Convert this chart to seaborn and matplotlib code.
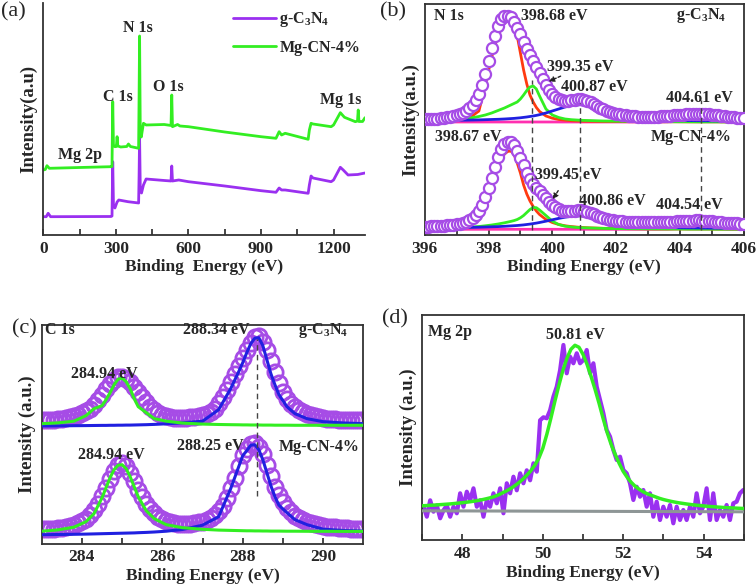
import matplotlib
matplotlib.use("Agg")
import matplotlib.pyplot as plt
import numpy as np
import seaborn as sns

# ---------------- (a) survey spectra ----------------
survey_cn_ev = [0, 12, 20, 30, 280, 284, 287, 290, 296, 305, 312, 350,
                394, 396, 398, 401, 406, 414, 425, 500, 528, 531, 534, 560, 600,
                750, 900, 962, 975, 985, 1000, 1095, 1100, 1107, 1115, 1190, 1200,
                1228, 1240, 1260, 1300, 1330]
survey_cn_int = [18.3, 18.3, 21.7, 18.3, 18.5, 19, 73.3, 30, 27, 33, 35, 33.3,
                 32, 60, 98, 45, 42, 50, 56, 54.5, 54, 69, 54, 55, 53.3,
                 49, 44.3, 42.7, 47, 45, 45, 41.7, 50, 59, 57, 53.3, 55,
                 67.7, 65, 60, 60.5, 62]
survey_mg_ev = [0, 8, 15, 25, 280, 284, 287, 290, 296, 302, 305, 308, 320, 345, 352, 360,
                394, 396, 398, 401, 405, 414, 425, 500, 528, 531, 534, 555, 565, 600,
                750, 900, 962, 975, 985, 1000, 1095, 1100, 1107, 1115, 1190, 1200,
                1228, 1245, 1290, 1299, 1302, 1305, 1320, 1330]
survey_mg_int = [65, 65.5, 69.3, 66.7, 68.3, 68.5, 133.3, 90, 88.3, 88.5, 98.3, 89, 88, 88.5, 91, 88.5,
                 86.7, 140, 199, 100, 98, 111.7, 110, 110.5, 109.5, 140, 108.3, 110.5, 109, 108.3,
                 103, 98.3, 96.7, 103.3, 100, 101.7, 95.7, 105, 111.7, 111, 108.3, 110,
                 122.3, 117.7, 113.3, 114, 125, 113.5, 113.5, 117.3]
survey_labels = ["Mg 2p", "C 1s", "N 1s", "O 1s", "Mg 1s"]
survey_label_ev = [152, 309, 392, 516, 1228]
survey_label_int = [80, 138, 207, 148, 135]

# ---------------- (b) N 1s ----------------
n1s_ev = np.round(np.arange(396.0, 406.05, 0.1), 2)
n1s_cn = [115.5, 115.6, 115.8, 116.0, 116.3, 116.6, 117.0, 117.5, 118.1, 118.8,
          119.6, 120.6, 122.0, 123.8, 126.5, 130.0, 135.0, 141.0, 150.0, 161.0,
          174.0, 187.0, 199.0, 209.0, 215.5, 218.5, 219.0, 217.5, 213.0, 207.0,
          201.0, 193.0, 186.0, 180.0, 174.0, 168.0, 162.0, 156.0, 150.0, 145.0,
          141.0, 138.0, 136.0, 134.5, 134.0, 134.2, 134.8, 135.3, 135.6, 135.5,
          135.0, 134.0, 132.5, 130.8, 129.0, 127.3, 125.8, 124.4, 123.2, 122.2,
          121.3, 120.6, 120.0, 119.5, 119.1, 118.8, 118.6, 118.4, 118.3, 118.2,
          118.2, 118.2, 118.3, 118.4, 118.5, 118.7, 118.9, 119.2, 119.5, 119.8,
          120.1, 120.4, 120.7, 121.0, 121.2, 121.3, 121.3, 121.2, 121.0, 120.7,
          120.3, 119.9, 119.5, 119.1, 118.7, 118.3, 118.0, 117.7, 117.4, 117.2,
          117.0]
n1s_mg = [8.3, 8.4, 8.5, 8.6, 8.8, 9.0, 9.2, 9.5, 9.9, 10.3,
          10.8, 11.4, 12.2, 13.3, 14.8, 17.0, 20.0, 24.0, 30.0, 38.0,
          47.0, 57.0, 68.0, 78.0, 86.0, 91.0, 93.3, 93.0, 89.5, 84.0,
          77.0, 69.5, 62.0, 56.0, 51.0, 47.0, 43.5, 40.0, 36.5, 33.0,
          30.0, 27.5, 25.5, 24.2, 23.6, 23.5, 23.8, 24.2, 24.5, 24.5,
          24.0, 23.2, 22.0, 20.7, 19.4, 18.2, 17.1, 16.2, 15.4, 14.8,
          14.3, 13.9, 13.6, 13.3, 13.1, 12.9, 12.8, 12.7, 12.6, 12.5,
          12.5, 12.5, 12.5, 12.6, 12.7, 12.8, 12.9, 13.1, 13.3, 13.5,
          13.7, 13.9, 14.1, 14.3, 14.4, 14.5, 14.5, 14.4, 14.2, 13.9,
          13.6, 13.3, 13.0, 12.7, 12.4, 12.2, 12.0, 11.8, 11.6, 11.4,
          11.2]
n1s_fit_ev = [396, 396.5, 397, 397.4, 397.7, 397.9, 398.1, 398.3, 398.5, 398.6, 398.7,
              398.8, 398.9, 399.0, 399.1, 399.2, 399.3, 399.4, 399.5, 399.6, 399.8,
              400.0, 400.2, 400.4, 400.6, 400.8, 400.9, 401.0, 401.2, 401.4, 401.6,
              401.8, 402.0, 402.4, 402.8, 403.2, 403.6, 404.0, 404.3, 404.6, 404.9,
              405.2, 405.6, 406.0]
n1s_cn_red = [113.6, 114.0, 114.8, 117.0, 124, 150, 178, 200, 212, 214.5, 214,
              209, 199, 182, 165, 151, 140, 133, 127.5, 123.5, 119,
              116.8, 115.5, 114.8, 114.3, 114.0, 113.9, 113.8, 113.7, 113.6, 113.5,
              113.5, 113.4, 113.3, 113.3, 113.2, 113.2, 113.2, 113.1, 113.1, 113.1,
              113.1, 113.0, 113.0]
n1s_cn_green = [114.0, 114.5, 115.5, 116.7, 118.5, 120, 122, 124.5, 127, 128.5, 130,
                131.5, 133, 136, 140, 144.5, 148, 149, 146, 139, 126,
                120, 117.5, 116, 115.3, 114.9, 114.7, 114.6, 114.4, 114.2, 114.0,
                113.9, 113.8, 113.6, 113.5, 113.4, 113.3, 113.2, 113.2, 113.1, 113.1,
                113.1, 113.0, 113.0]
n1s_cn_blue = [114.3, 114.5, 114.7, 114.9, 115.1, 115.3, 115.5, 115.7, 116.0, 116.2, 116.4,
               116.6, 116.9, 117.2, 117.6, 118.0, 118.5, 119.0, 119.6, 120.3, 122,
               124, 126, 128, 129.5, 130.2, 130.3, 130.0, 128.8, 126.8, 124.3,
               121.8, 119.8, 117.3, 116.0, 115.3, 114.9, 114.6, 114.4, 114.3, 114.2,
               114.1, 114.0, 113.9]
n1s_cn_pink = [113.0, 113.0, 113.0, 113.0, 113.0, 113.0, 113.0, 113.0, 113.0, 113.0, 113.0,
               113.0, 113.0, 113.0, 113.0, 113.0, 113.0, 113.0, 113.0, 113.0, 113.0,
               113.0, 113.0, 113.0, 113.0, 113.0, 113.0, 113.0, 113.0, 113.0, 113.0,
               113.0, 113.0, 113.0, 113.0, 113.0, 113.2, 113.8, 114.5, 115.0, 114.5,
               113.8, 113.3, 113.1]
n1s_mg_red = [6.5, 6.9, 7.6, 9.5, 15, 28, 50, 70, 81, 83.5, 84,
              80.5, 72, 62, 50, 41, 34, 28.5, 24, 20.5, 15.5,
              12.5, 10.5, 9.2, 8.4, 7.8, 7.6, 7.4, 7.1, 6.9, 6.7,
              6.6, 6.5, 6.3, 6.2, 6.1, 6.0, 6.0, 5.9, 5.9, 5.9,
              5.8, 5.8, 5.8]
n1s_mg_green = [6.2, 6.5, 7.0, 7.7, 8.5, 9.2, 10, 11, 12.2, 12.9, 13.6,
                14.4, 15.5, 17.2, 19.5, 22.5, 25.5, 27.5, 27.3, 25, 19.5,
                13.8, 10.5, 8.8, 8.0, 7.5, 7.3, 7.2, 7.0, 6.8, 6.6,
                6.5, 6.4, 6.3, 6.2, 6.1, 6.0, 6.0, 5.9, 5.9, 5.9,
                5.8, 5.8, 5.8]
n1s_mg_blue = [7.0, 7.2, 7.4, 7.6, 7.8, 8.0, 8.2, 8.4, 8.7, 8.9, 9.1,
               9.3, 9.5, 9.8, 10.1, 10.5, 10.9, 11.4, 11.9, 12.5, 13.8,
               15.2, 16.6, 17.8, 18.7, 19.1, 19.1, 18.9, 18.0, 16.6, 14.9,
               13.1, 11.6, 9.6, 8.5, 7.9, 7.5, 7.2, 7.1, 7.0, 6.9,
               6.8, 6.7, 6.6]
n1s_mg_pink = [5.7, 5.7, 5.7, 5.7, 5.7, 5.7, 5.7, 5.7, 5.7, 5.7, 5.7,
               5.7, 5.7, 5.7, 5.7, 5.7, 5.7, 5.7, 5.7, 5.7, 5.7,
               5.7, 5.7, 5.7, 5.7, 5.7, 5.7, 5.7, 5.7, 5.7, 5.7,
               5.7, 5.7, 5.7, 5.7, 5.7, 5.9, 6.4, 7.0, 7.4, 7.0,
               6.4, 5.9, 5.8]
n1s_marks = [399.36, 400.88, 404.65]
n1s_mark_top = [155, 131.7, 135]

# ---------------- (c) C 1s ----------------
c1s_ev = np.round(np.arange(283.0, 291.05, 0.1), 2)
c1s_cn = [123.4, 123.6, 123.8, 124.1, 124.5, 125.0, 125.6, 126.4, 127.4, 128.6,
          130.2, 132.3, 135.0, 138.6, 143.2, 148.5, 154.2, 159.6, 163.8, 166.5,
          167.0, 165.0, 161.5, 157.0, 151.5, 146.5, 141.5, 137.0, 133.5, 130.5,
          128.5, 127.2, 126.3, 125.8, 125.6, 125.6, 125.8, 126.2, 126.8, 127.5,
          128.4, 130.0, 132.0, 135.0, 141.0, 147.0, 154.0, 162.0, 170.0, 178.0,
          186.0, 194.0, 201.0, 206.5, 208.0, 202.0, 193.4, 182.5, 171.7, 161.0,
          151.5, 145.0, 140.0, 136.5, 133.5, 131.3, 129.6, 128.4, 127.4, 126.5,
          125.7, 125.1, 124.6, 124.2, 123.9, 123.7, 123.6, 123.5, 123.4, 123.4,
          123.4]
c1s_mg = [14.4, 14.6, 14.8, 15.1, 15.5, 16.0, 16.7, 17.6, 18.8, 20.3,
          22.3, 25.0, 28.7, 33.5, 39.8, 47.5, 56.0, 65.0, 73.0, 79.0,
          80.5, 77.5, 71.0, 62.5, 54.0, 46.5, 40.0, 34.5, 30.2, 27.0,
          24.5, 22.6, 21.2, 20.2, 19.6, 19.3, 19.4, 19.9, 20.8, 22.0,
          22.0, 23.5, 25.8, 28.8, 32.5, 38.0, 46.0, 56.0, 66.0, 78.0,
          89.0, 95.0, 99.5, 100.5, 97.0, 89.5, 79.0, 67.5, 57.0, 48.5,
          41.5, 36.0, 31.5, 28.0, 25.3, 23.2, 21.5, 20.2, 19.2, 18.4,
          17.7, 17.1, 16.6, 16.2, 15.8, 15.5, 15.3, 15.1, 14.9, 14.8,
          14.7]
c1s_fit_ev = [283.0, 283.4, 283.8, 284.1, 284.3, 284.5, 284.6, 284.7, 284.8, 284.9,
              285.0, 285.1, 285.2, 285.3, 285.4, 285.6, 285.8, 286.1, 286.5, 287.0,
              287.4, 287.7, 287.9, 288.0, 288.1, 288.2, 288.3, 288.4, 288.5, 288.6,
              288.7, 288.8, 288.9, 289.1, 289.3, 289.6, 290.0, 290.5, 291.0]
c1s_cn_green = [120.0, 120.8, 122.5, 128, 135, 138, 144, 151, 159, 164.5,
                165.5, 162, 155, 145, 137, 131, 125, 122.5, 120.6, 119.6,
                119.2, 119.0, 118.9, 118.8, 118.8, 118.7, 118.7, 118.7, 118.6, 118.6,
                118.6, 118.5, 118.5, 118.5, 118.4, 118.4, 118.4, 118.4, 118.4]
c1s_cn_blue = [117.7, 117.8, 118.0, 118.1, 118.2, 118.3, 118.3, 118.4, 118.4, 118.5,
               118.5, 118.6, 118.6, 118.7, 118.8, 119.0, 119.3, 119.9, 120.8, 122.5,
               134, 155, 172, 181, 191, 200, 205.5, 206, 198, 184,
               170, 159, 149, 137, 130, 125, 122, 120.7, 120]
c1s_mg_green = [12.5, 13.8, 16.5, 22, 30, 46, 56, 66, 74, 78.5,
                79, 75, 67, 57, 47, 33, 25, 19, 16, 14.4,
                13.6, 13.3, 13.1, 13.0, 12.9, 12.9, 12.8, 12.8, 12.7, 12.7,
                12.6, 12.6, 12.6, 12.5, 12.5, 12.4, 12.4, 12.3, 12.3]
c1s_mg_blue = [9.0, 9.2, 9.4, 9.6, 9.8, 10.0, 10.1, 10.2, 10.3, 10.4,
               10.5, 10.6, 10.7, 10.8, 11.0, 11.3, 11.7, 12.5, 14.2, 18.5,
               27, 55, 77, 88, 93, 98.5, 99, 94, 84, 71,
               58, 47, 38.5, 31, 24, 19, 14.5, 13.2, 12.6]

# ---------------- (d) Mg 2p ----------------
mg2p_ev = np.linspace(47.03, 54.99, 97)
mg2p_raw = [33.6, 23.6, 40, 28.6, 35, 22, 30, 35, 23.6, 33.6,
            27, 47, 33.6, 48.6, 40, 52, 33.6, 40, 23.6, 40,
            33.6, 47, 37, 52, 27, 57, 47, 63.6, 50, 67,
            57, 70, 60, 77, 68.6, 120, 123, 122, 130, 143.6,
            153.6, 170, 195.3, 167, 183.6, 177, 187, 177,
            180.3, 190.3, 167, 177, 153.6, 140.3, 127, 110.3, 103.6, 90.3,
            80.3, 83.6, 70.3, 67, 57, 40.3, 53.6, 43.6, 50.3, 33.6,
            47, 23.6, 38.6, 20.3, 33.6, 23.6, 35.3, 17, 33.6, 20.3,
            30.3, 20.3, 33.6, 23.6, 47, 27, 33.6, 52, 20.3, 47,
            20.3, 30.3, 23.6, 35.3, 20.3, 37, 38.6, 47, 50.3]
mg2p_fit_ev = np.round(np.arange(47.0, 55.05, 0.1), 2)
mg2p_fit = [34.5, 34.7, 35.0, 35.2, 35.5, 35.8, 36.1, 36.4, 36.8, 37.2,
            37.6, 38.1, 38.6, 39.2, 39.9, 40.7, 41.6, 42.6, 43.8, 45.5,
            47.5, 49.5, 51.8, 54.5, 57.5, 61, 65, 69.5, 75, 82,
            92, 106, 122, 139, 155, 170, 182, 191, 195, 193,
            186, 176, 164, 151, 137, 122, 108, 96, 86, 77,
            69, 63, 58, 54, 51, 48.5, 46.5, 45, 43.5, 42,
            40.8, 39.8, 38.9, 38.1, 37.4, 36.8, 36.2, 35.7, 35.2, 34.8,
            34.4, 34.0, 33.7, 33.4, 33.1, 32.8, 32.6, 32.4, 32.2, 32.0,
            31.8]
mg2p_bg_ev = [47.0, 55.0]
mg2p_bg = [29.5, 28.5]

PURPLE = "#9a30f0"
CIRC = "#a64ce6"
GREEN = "#33ee22"
RED = "#ff3a10"
BLUE = "#2020e0"
PINK = "#ff30b0"
GRAY = "#8e9696"

sns.set_theme(style="ticks")
plt.rcParams["font.family"] = ["Liberation Serif", "DejaVu Serif"]
plt.rcParams["font.weight"] = "bold"
plt.rcParams["axes.labelweight"] = "bold"
plt.rcParams["mathtext.fontset"] = "custom"
plt.rcParams["mathtext.rm"] = "Liberation Serif:bold"
plt.rcParams["mathtext.it"] = "Liberation Serif:bold:italic"
plt.rcParams["mathtext.bf"] = "Liberation Serif:bold"

fig = plt.figure(figsize=(7.56, 5.85), dpi=100)
ax_a = fig.add_axes([0.0573, 0.5983, 0.4255, 0.3966])
ax_b = fig.add_axes([0.5618, 0.5983, 0.4219, 0.3949])
ax_c = fig.add_axes([0.0552, 0.0706, 0.4254, 0.3744])
ax_d = fig.add_axes([0.5586, 0.0764, 0.4251, 0.3857])

GCN = "g-C$_3$N$_4$"


def style_axes(ax, xlim, ylim, major, minor, ylabel, xlabel="Binding Energy (eV)"):
    ax.set_xlim(*xlim)
    ax.set_ylim(*ylim)
    ax.set_yticks([])
    ax.set_xticks(major)
    ax.set_xticks(minor, minor=True)
    ax.tick_params(axis="x", which="both", direction="in", length=4, width=1.2,
                   labelsize=12.5, pad=4)
    for s in ax.spines.values():
        s.set_linewidth(1.3)
        s.set_color("#333333")
    ax.set_xlabel(xlabel, fontsize=12.5, labelpad=2)
    ax.set_ylabel(ylabel, fontsize=13.5, labelpad=4)


def line(ax, x, y, color, lw=2.0, z=2, **kw):
    sns.lineplot(x=x, y=y, ax=ax, color=color, lw=lw, estimator=None, sort=False,
                 zorder=z, **kw)


def circles(ax, x, y, ms, mew, z, fill="none"):
    sns.lineplot(x=x, y=y, ax=ax, marker="o", linestyle="", ms=ms, mfc=fill,
                 mec=CIRC, mew=mew, estimator=None, sort=False, zorder=z)


# ---- (a)
line(ax_a, survey_cn_ev, survey_cn_int, PURPLE, lw=2.0, label=GCN)
line(ax_a, survey_mg_ev, survey_mg_int, GREEN, lw=2.0, label="Mg-CN-4%")
style_axes(ax_a, (0, 1330), (0, 232), [0, 300, 600, 900, 1200],
           [150, 450, 750, 1050], "Intensity(a.u)", "Binding  Energy (eV)")
ax_a.spines["top"].set_visible(False)
ax_a.spines["right"].set_visible(False)
for t, xe, yi in zip(survey_labels, survey_label_ev, survey_label_int):
    ax_a.text(xe, yi, t, fontsize=11.5, ha="center", va="center")
ax_a.legend(loc="upper right", bbox_to_anchor=(1.03, 1.03), frameon=False,
            fontsize=11.5, handlelength=2.7, handletextpad=0.2, labelspacing=0.65)

# ---- (b)
for y_fit, col in [(n1s_cn_pink, PINK), (n1s_cn_red, RED), (n1s_cn_green, GREEN),
                   (n1s_cn_blue, BLUE), (n1s_mg_pink, PINK), (n1s_mg_red, RED),
                   (n1s_mg_green, GREEN), (n1s_mg_blue, BLUE)]:
    line(ax_b, n1s_fit_ev, y_fit, col, lw=2.0, z=2)
circles(ax_b, n1s_ev, n1s_cn, 8, 1.6, 3, fill="white")
circles(ax_b, n1s_ev, n1s_mg, 8, 1.6, 3, fill="white")
for xm, yt in zip(n1s_marks, n1s_mark_top):
    ax_b.vlines(xm, 5, yt, colors="#444444", linestyles=(0, (4, 3)), lw=1.0, zorder=4)
style_axes(ax_b, (396, 406), (0, 231), [396, 398, 400, 402, 404, 406],
           [397, 399, 401, 403, 405], "Intensity(a.u.)")
b_text = [("N 1s", 396.3, 219, "left"), ("398.68 eV", 399.03, 219, "left"),
          (GCN, 405.45, 219, "right"), ("399.35 eV", 400.86, 168.3, "center"),
          ("400.87 eV", 401.31, 147.7, "center"), ("404.61 eV", 404.62, 136.7, "center"),
          ("398.67 eV", 397.38, 98.3, "center"), ("Mg-CN-4%", 404.36, 98.3, "center"),
          ("399.45 eV", 400.51, 60, "center"), ("400.86 eV", 401.87, 34.3, "center"),
          ("404.54 eV", 404.31, 30, "center")]
for t, xe, yi, ha in b_text:
    ax_b.text(xe, yi, t, fontsize=11.5, ha=ha, va="center", zorder=5)
for (x0, y0), (x1, y1) in [((400.34, 160), (399.81, 152.3)), ((400.23, 46.7), (399.97, 33.3))]:
    ax_b.annotate("", xy=(x1, y1), xytext=(x0, y0),
                  arrowprops=dict(arrowstyle="-|>", ls=(0, (2, 1.5)), lw=1.0,
                                  color="#222222", mutation_scale=8))

# ---- (c)
circles(ax_c, c1s_ev, c1s_cn, 11, 2.0, 2)
circles(ax_c, c1s_ev, c1s_mg, 11, 2.0, 2)
for y_fit, col in [(c1s_cn_blue, BLUE), (c1s_cn_green, GREEN),
                   (c1s_mg_blue, BLUE), (c1s_mg_green, GREEN)]:
    line(ax_c, c1s_fit_ev, y_fit, col, lw=2.2, z=3)
ax_c.vlines(288.35, 48, 205, colors="#444444", linestyles=(0, (4, 3)), lw=1.0, zorder=4)
style_axes(ax_c, (283, 291), (0, 219), [284, 286, 288, 290], [285, 287, 289],
           "Intensity (a.u.)")
c_text = [("C 1s", 283.08, 213.4, "left"), ("288.34 eV", 287.33, 213.4, "center"),
          (GCN, 290.63, 213.4, "right"), ("284.94 eV", 284.55, 170, "center"),
          ("Mg-CN-4%", 289.9, 96.7, "center"), ("288.25 eV", 287.2, 97.7, "center"),
          ("284.94 eV", 284.74, 88.4, "center")]
for t, xe, yi, ha in c_text:
    ax_c.text(xe, yi, t, fontsize=11.5, ha=ha, va="center", zorder=5)

# ---- (d)
line(ax_d, mg2p_ev, mg2p_raw, PURPLE, lw=3.0, z=2)
line(ax_d, mg2p_bg_ev, mg2p_bg, GRAY, lw=2.2, z=3)
line(ax_d, mg2p_fit_ev, mg2p_fit, GREEN, lw=2.5, z=4)
style_axes(ax_d, (47, 55), (0, 225.6), [48, 50, 52, 54], [47, 49, 51, 53, 55],
           "Intensity (a.u.)")
ax_d.text(47.15, 208, "Mg 2p", fontsize=11.5, ha="left", va="center")
ax_d.text(50.81, 205, "50.81 eV", fontsize=11.5, ha="center", va="center")

for ax, lab, xy in [(ax_a, "(a)", (13, 12)), (ax_b, "(b)", (393, 12)),
                    (ax_c, "(c)", (24, 329)), (ax_d, "(d)", (395, 319))]:
    fig.text(xy[0] / 756, 1 - xy[1] / 585, lab, fontsize=16, fontweight="normal",
             ha="center", va="center")

fig.savefig("out.png", dpi=100)
